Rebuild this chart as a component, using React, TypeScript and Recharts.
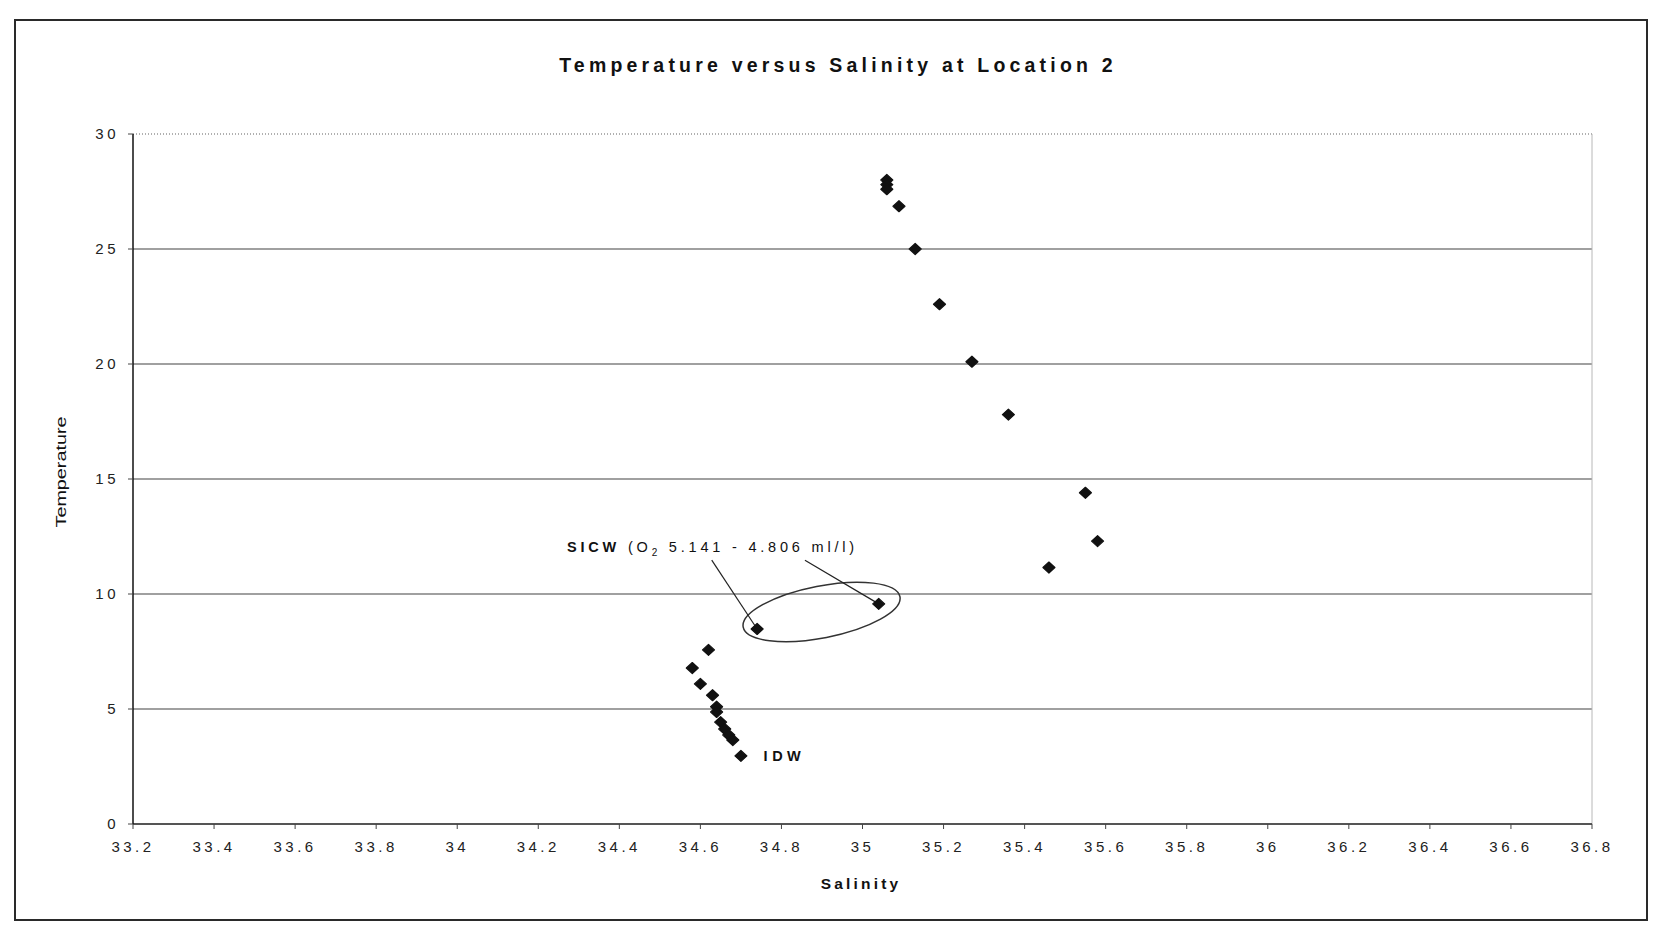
import { ScatterChart, Scatter, XAxis, YAxis, CartesianGrid, ReferenceLine, ReferenceArea, ReferenceDot } from 'recharts'

// T-S profile, Location 2 (surface at the top, deep water at the bottom)
const salinity = [
  35.06, 35.06, 35.06, 35.09, 35.13, 35.19, 35.27, 35.36, 35.55, 35.58, 35.46, 35.04,
  34.74, 34.62, 34.58, 34.6, 34.63, 34.64, 34.64, 34.65, 34.66, 34.67, 34.68, 34.7,
]
const temperature = [
  28.0, 27.8, 27.6, 26.86, 25.0, 22.6, 20.1, 17.8, 14.4, 12.3, 11.15, 9.57,
  8.48, 7.57, 6.78, 6.09, 5.6, 5.1, 4.87, 4.43, 4.13, 3.87, 3.65, 2.96,
]

const salinityTicks = [
  33.2, 33.4, 33.6, 33.8, 34, 34.2, 34.4, 34.6, 34.8, 35, 35.2, 35.4, 35.6, 35.8, 36, 36.2, 36.4, 36.6, 36.8,
]
const temperatureTicks = [0, 5, 10, 15, 20, 25, 30]
const gridTemps = [5, 10, 15, 20, 25]

// indices of the two SICW samples that are circled
const sicwIdx = [12, 11]
const sicwText = { salinity: 34.271, temperature: 11.81 }
const sicwLeaderStarts = [
  { salinity: 34.628, temperature: 11.47 },
  { salinity: 34.858, temperature: 11.47 },
]
const sicwRing = { x1: 34.702, x2: 35.096, y1: 8.09, y2: 10.35 }
const idwText = { salinity: 34.756, temperature: 2.76 }

const points = salinity.map((s, i) => ({ salinity: s, temperature: temperature[i] }))

const FONT = 'Arial, "Liberation Sans", Helvetica, sans-serif'

const Diamond = (props: any) => {
  const { cx, cy } = props
  if (cx == null || cy == null) return null
  return (
    <polygon
      points={`${cx - 6},${cy} ${cx},${cy - 5.5} ${cx + 6},${cy} ${cx},${cy + 5.5}`}
      fill="#111"
      stroke="#111"
      strokeWidth={1.2}
      strokeLinejoin="round"
    />
  )
}

const Ring = (props: any) => {
  const { x, y, width, height } = props
  const cx = x + width / 2
  const cy = y + height / 2
  return (
    <ellipse
      cx={cx}
      cy={cy}
      rx={width / 2}
      ry={height / 2}
      transform={`rotate(-11 ${cx} ${cy})`}
      fill="none"
      stroke="#333"
      strokeWidth={1.5}
    />
  )
}

const SicwLabel = (props: any) => (
  <text x={props.cx} y={props.cy} fontFamily={FONT} fontSize={14.5} letterSpacing={3.8} fill="#111">
    <tspan fontWeight="bold">SICW</tspan>
    <tspan> (O</tspan>
    <tspan fontSize={10} dy={4}>2</tspan>
    <tspan dy={-4}> 5.141 - 4.806 ml/l)</tspan>
  </text>
)

const IdwLabel = (props: any) => (
  <text x={props.cx} y={props.cy} fontFamily={FONT} fontSize={14.5} fontWeight="bold" letterSpacing={4.5} fill="#111">
    IDW
  </text>
)

const tickStyle = { fontFamily: FONT, fontSize: 15, letterSpacing: 3.5, fill: '#222' }

export default function App() {
  return (
    <div style={{ position: 'relative', width: 1656, height: 925, background: '#fff', overflow: 'hidden' }}>
      <style>{'body{margin:0}'}</style>
      <div
        style={{
          position: 'absolute',
          left: 14,
          top: 19,
          width: 1630,
          height: 898,
          border: '2px solid #2a2a2a',
        }}
      />
      <div style={{ position: 'absolute', left: 0, top: 0 }}>
        <ScatterChart width={1656} height={925} margin={{ top: 134, right: 64, bottom: 61, left: 0 }}>
          <CartesianGrid vertical={false} horizontalValues={gridTemps} stroke="#a0a0a0" strokeWidth={2} />
          <ReferenceLine y={30} stroke="#b0b0b0" strokeWidth={2} strokeDasharray="1 2" />
          <ReferenceLine x={36.8} stroke="#b8b8b8" strokeWidth={1} />
          <XAxis
            type="number"
            dataKey="salinity"
            domain={[33.2, 36.8]}
            ticks={salinityTicks}
            interval={0}
            tickFormatter={(v: number) => String(+v.toFixed(1))}
            axisLine={{ stroke: '#555', strokeWidth: 2 }}
            tickLine={{ stroke: '#444' }}
            tickSize={5}
            tickMargin={12}
            tick={tickStyle}
            height={40}
          />
          <YAxis
            type="number"
            dataKey="temperature"
            domain={[0, 30]}
            ticks={temperatureTicks}
            interval={0}
            axisLine={{ stroke: '#111', strokeWidth: 1.5 }}
            tickLine={{ stroke: '#444' }}
            tickSize={5}
            tickMargin={9}
            tick={tickStyle}
            width={133}
          />
          <ReferenceArea {...sicwRing} shape={Ring} />
          {sicwLeaderStarts.map((s, i) => (
            <ReferenceLine
              key={i}
              segment={[
                { x: s.salinity, y: s.temperature },
                { x: salinity[sicwIdx[i]], y: temperature[sicwIdx[i]] },
              ]}
              stroke="#222"
              strokeWidth={1.2}
            />
          ))}
          <ReferenceDot x={sicwText.salinity} y={sicwText.temperature} r={0} shape={SicwLabel} />
          <ReferenceDot x={idwText.salinity} y={idwText.temperature} r={0} shape={IdwLabel} />
          <Scatter data={points} shape={Diamond} isAnimationActive={false} />
        </ScatterChart>
      </div>
      <svg
        width={1656}
        height={925}
        style={{ position: 'absolute', left: 0, top: 0, pointerEvents: 'none' }}
      >
        <text
          x={838}
          y={72}
          textAnchor="middle"
          fontFamily={FONT}
          fontSize={19.5}
          fontWeight="bold"
          letterSpacing={4.2}
          fill="#111"
        >
          Temperature versus Salinity at Location 2
        </text>
        <text
          x={861}
          y={889}
          textAnchor="middle"
          fontFamily={FONT}
          fontSize={15.5}
          fontWeight="bold"
          letterSpacing={3.2}
          fill="#111"
        >
          Salinity
        </text>
        <text
          x={0}
          y={0}
          transform="translate(66 472) rotate(-90)"
          textAnchor="middle"
          fontFamily={FONT}
          fontSize={14}
          textLength={111}
          lengthAdjust="spacingAndGlyphs"
          fill="#111"
        >
          Temperature
        </text>
      </svg>
    </div>
  )
}
